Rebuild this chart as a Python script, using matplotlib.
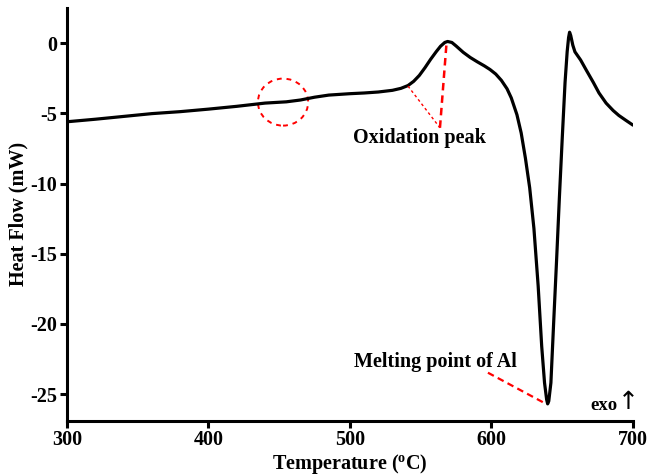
import matplotlib
matplotlib.use("Agg")
import matplotlib.pyplot as plt
from matplotlib.patches import Ellipse

plt.rcParams['font.family'] = ['Liberation Serif', 'DejaVu Serif']
plt.rcParams['font.weight'] = 'bold'
plt.rcParams['mathtext.fontset'] = 'custom'
plt.rcParams['mathtext.rm'] = 'Liberation Serif:bold'
plt.rcParams['mathtext.bf'] = 'Liberation Serif:bold'

# Data
temperature = [300, 320, 340, 360, 380, 400, 420, 440, 455, 465, 475, 485, 500, 510,
               520, 530, 536, 541, 545, 549, 553, 557, 561, 564, 567, 569, 572, 575,
               580, 585, 590, 595, 599, 603, 607, 611, 614, 618, 621, 624, 627, 630,
               633, 635.5, 637.5, 639, 639.7, 640.5, 642, 644, 646, 648, 650, 652,
               653.5, 654.5, 655.2, 656, 657.5, 659, 663, 667, 672, 676, 681, 686,
               690, 695, 700]
heat_flow = [-5.6, -5.42, -5.22, -5.02, -4.88, -4.7, -4.5, -4.27, -4.18, -4.05, -3.85,
             -3.7, -3.6, -3.55, -3.48, -3.36, -3.22, -3.02, -2.72, -2.3, -1.75, -1.15,
             -0.6, -0.22, 0.05, 0.12, 0.05, -0.2, -0.65, -1.02, -1.33, -1.62, -1.88,
             -2.2, -2.65, -3.25, -3.9, -5.1, -6.4, -8.2, -10.3, -13.2, -17.3, -21.6,
             -24.2, -25.4, -25.7, -25.5, -24.2, -19.8, -15.5, -11.0, -6.8, -2.8, -0.6,
             0.4, 0.78, 0.55, -0.15, -0.62, -1.2, -1.92, -2.8, -3.55, -4.27, -4.8,
             -5.15, -5.5, -5.84]

x_ticks = [300, 400, 500, 600, 700]
y_ticks = [0, -5, -10, -15, -20, -25]

fig = plt.figure(figsize=(6.49, 4.75), dpi=100)
ax = fig.add_axes([0.1032, 0.1143, 0.8721, 0.8687])
ax.plot(temperature, heat_flow, color='black', lw=2.3, solid_capstyle='round')

ax.set_xlim(300, 700)
ax.set_ylim(-26.9, 2.5)
ax.set_xticks(x_ticks)
ax.set_yticks(y_ticks)
ax.set_xticklabels([str(v) for v in x_ticks])
ax.set_yticklabels([str(v) for v in y_ticks])
for s in ['top', 'right']:
    ax.spines[s].set_visible(False)
for s in ['left', 'bottom']:
    ax.spines[s].set_linewidth(2.2)
ax.tick_params(direction='out', length=5, width=2.2, labelsize=14.5, pad=2)
for lab in ax.get_xticklabels() + ax.get_yticklabels():
    lab.set_fontweight('bold')

ax.set_xlabel(r'Temperature ($\mathbf{^{o}}$C)', fontsize=14.5, fontweight='bold', labelpad=1)
ax.set_ylabel('Heat Flow (mW)', fontsize=14.5, fontweight='bold', labelpad=1)

# Annotations
ax.add_patch(Ellipse((452.7, -4.2), 35.5, 3.35, fill=False, edgecolor='red',
                     lw=1.4, linestyle=(0, (2.5, 2.5))))
ax.plot([541, 563.6], [-3.06, -6.03], color='red', lw=1.0, linestyle=(0, (2, 2)))
ax.plot([563.6, 568.3], [-6.03, 0.09], color='red', lw=1.8, linestyle=(0, (3, 2)))
ax.text(549, -6.75, 'Oxidation peak', ha='center', va='center', fontsize=14.5,
        fontweight='bold')
ax.plot([597.5, 637.8], [-23.48, -25.66], color='red', lw=1.6, linestyle=(0, (3, 2)))
ax.text(560.6, -22.7, 'Melting point of Al', ha='center', va='center', fontsize=14.5,
        fontweight='bold')
ax.text(688.8, -25.85, 'exo', ha='right', va='center', fontsize=13.5,
        fontweight='bold')
ax.text(689.0, -25.57, '\u2191', ha='left', va='center', fontsize=18,
        fontweight='normal', family=['DejaVu Sans'])

fig.savefig('out.png', dpi=100)
